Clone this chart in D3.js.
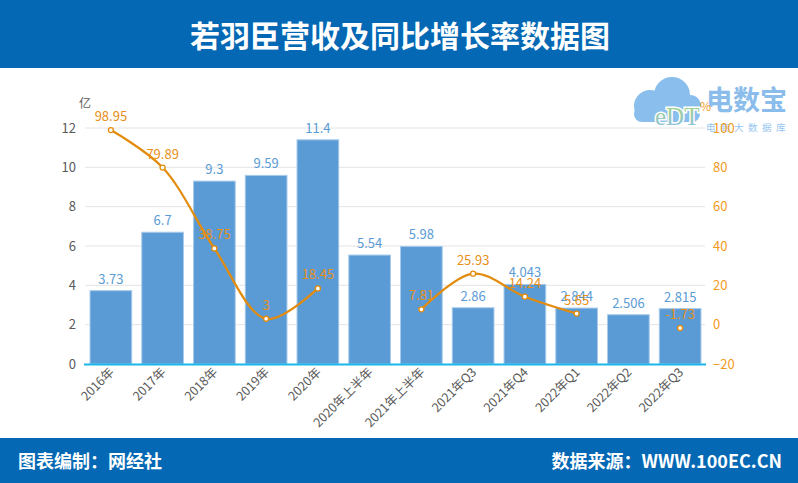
<!DOCTYPE html>
<html><head><meta charset="utf-8">
<script src="https://cdn.jsdelivr.net/npm/d3@7"></script>
<style>
html,body{margin:0;padding:0;background:#fff;}
svg{display:block;font-family:"Microsoft YaHei","Noto Sans CJK SC","Noto Sans",sans-serif;}
</style></head>
<body><svg id="c" width="798" height="483"></svg>
<script>
const categories = ["2016年","2017年","2018年","2019年","2020年","2020年上半年","2021年上半年","2021年Q3","2021年Q4","2022年Q1","2022年Q2","2022年Q3"];
const revenue = [3.73, 6.7, 9.3, 9.59, 11.4, 5.54, 5.98, 2.86, 4.043, 2.844, 2.506, 2.815];
const revenueLabels = ["3.73","6.7","9.3","9.59","11.4","5.54","5.98","2.86","4.043","2.844","2.506","2.815"];
const growth = [98.95, 79.89, 38.75, 3, 18.45, null, 7.81, 25.93, 14.24, 5.65, null, -1.73];
const growthLabels = ["98.95","79.89","38.75","3","18.45","","7.81","25.93","14.24","5.65","","-1.73"];
const leftTicks = [0,2,4,6,8,10,12];
const rightTicks = [-20,0,20,40,60,80,100];
const title = "若羽臣营收及同比增长率数据图";
const footerLeft = "图表编制：网经社";
const footerRight = "数据来源：WWW.100EC.CN";

const svg = d3.select("#c");
const W = 798, H = 483;
const blue = "#0468B4";

// header & footer
svg.append("rect").attr("x",0).attr("y",0).attr("width",W).attr("height",68).attr("fill",blue);
svg.append("text").attr("x",400).attr("y",47).attr("text-anchor","middle")
  .attr("fill","#fff").attr("font-size",30).attr("font-weight","bold").text(title);
svg.append("rect").attr("x",0).attr("y",438).attr("width",W).attr("height",H-438).attr("fill",blue);
svg.append("text").attr("x",18).attr("y",468).attr("fill","#fff").attr("font-size",18).attr("font-weight","bold").text(footerLeft);
svg.append("text").attr("x",782).attr("y",468).attr("text-anchor","end").attr("fill","#fff").attr("font-size",18).attr("font-weight","bold").text(footerRight);

// logo watermark
const logo = svg.append("g").attr("opacity",0.9);
const cloud = logo.append("g").attr("fill","#7DB8EC");
[[650,106,16],[672,95,18],[690,106,11],[662,112,10],[680,113,10]].forEach(c=>cloud.append("circle").attr("cx",c[0]).attr("cy",c[1]).attr("r",c[2]));
cloud.append("rect").attr("x",634).attr("y",106).attr("width",66).attr("height",16).attr("rx",8);
const grad = svg.append("defs").append("linearGradient").attr("id","lg").attr("x1",0).attr("y1",0).attr("x2",0).attr("y2",1);
grad.append("stop").attr("offset","0%").attr("stop-color","#9ed36a");
grad.append("stop").attr("offset","100%").attr("stop-color","#7DB8EC");
logo.append("text").attr("x",655).attr("y",125).attr("font-size",25).attr("font-family","Liberation Serif, serif")
  .attr("fill","#fff").attr("stroke","#fff").attr("stroke-width",3).text("eDT");
logo.append("text").attr("x",655).attr("y",125).attr("font-size",25).attr("font-family","Liberation Serif, serif")
  .attr("fill","url(#lg)").text("eDT");
logo.append("text").attr("x",706).attr("y",110).attr("font-size",27).attr("font-weight","bold").attr("fill","#7EB6EA").text("电数宝");
logo.append("text").attr("x",706).attr("y",131).attr("font-size",9.5).attr("letter-spacing",4.5).attr("fill","#8CC0EE").text("电商大数据库");

// scales
const x = d3.scaleBand().domain(categories).range([85,706]).paddingInner(0.194).paddingOuter(0.097);
const yL = d3.scaleLinear().domain([0,12]).range([364,128]);
const yR = d3.scaleLinear().domain([-20,100]).range([364,128]);

// grid
svg.append("g").selectAll("line").data(leftTicks.slice(1)).join("line")
  .attr("x1",85).attr("x2",705).attr("y1",d=>yL(d)).attr("y2",d=>yL(d))
  .attr("stroke","#E4E4E4").attr("stroke-width",1);

// left axis
const gL = svg.append("g").attr("transform","translate(80,0)")
  .call(d3.axisLeft(yL).tickValues(leftTicks).tickSize(0).tickPadding(4));
gL.select(".domain").remove();
gL.selectAll("text").attr("fill","#595959").attr("font-size",13).attr("font-family","Microsoft YaHei, Noto Sans CJK SC, sans-serif");
svg.append("text").attr("x",79).attr("y",108).attr("fill","#595959").attr("font-size",12).text("亿");

// right axis
const gR = svg.append("g").attr("transform","translate(709,0)")
  .call(d3.axisRight(yR).tickValues(rightTicks).tickSize(0).tickPadding(4));
gR.select(".domain").remove();
gR.selectAll("text").attr("fill","#F39A1E").attr("font-size",13).attr("font-family","Microsoft YaHei, Noto Sans CJK SC, sans-serif");
svg.append("text").attr("x",700).attr("y",111).attr("fill","#F39A1E").attr("font-size",12).text("%");

// bars
svg.append("g").selectAll("rect").data(revenue).join("rect")
  .attr("x",(d,i)=>x(categories[i])).attr("width",x.bandwidth())
  .attr("y",d=>yL(d)).attr("height",d=>yL(0)-yL(d))
  .attr("fill","#5B9BD5").attr("stroke","#A8CBEC").attr("stroke-width",1);

// baseline
svg.append("line").attr("x1",84).attr("x2",706).attr("y1",yL(0)+0.5).attr("y2",yL(0)+0.5)
  .attr("stroke","#19B7EA").attr("stroke-width",2);

// x labels
svg.append("g").selectAll("text").data(categories).join("text")
  .attr("transform",(d)=>`translate(${x(d)+x.bandwidth()/2+4},${373}) rotate(-45)`)
  .attr("text-anchor","end").attr("fill","#595959").attr("font-size",12.5).text(d=>d);

// bar labels
svg.append("g").selectAll("text").data(revenue).join("text")
  .attr("x",(d,i)=>x(categories[i])+x.bandwidth()/2).attr("y",d=>yL(d)-7)
  .attr("text-anchor","middle").attr("fill","#5B9BD5").attr("font-size",13).text((d,i)=>revenueLabels[i]);

// line
const pts = growth.map((v,i)=>({v,c:categories[i]}));
const line = d3.line().defined(d=>d.v!==null)
  .x(d=>x(d.c)+x.bandwidth()/2).y(d=>yR(d.v)).curve(d3.curveCatmullRom.alpha(0.5));
svg.append("path").datum(pts).attr("d",line).attr("fill","none").attr("stroke","#E38B0B").attr("stroke-width",2.2);
const valid = pts.filter(d=>d.v!==null);
svg.append("g").selectAll("circle").data(valid).join("circle")
  .attr("cx",d=>x(d.c)+x.bandwidth()/2).attr("cy",d=>yR(d.v)).attr("r",2.5)
  .attr("fill","#fff").attr("stroke","#E38B0B").attr("stroke-width",1.3);
svg.append("g").selectAll("text").data(pts).join("text")
  .attr("x",d=>x(d.c)+x.bandwidth()/2).attr("y",d=>d.v===null?0:yR(d.v)-9)
  .attr("text-anchor","middle").attr("fill","#E8901A").attr("font-size",13)
  .text((d,i)=>growthLabels[i]);
</script></body></html>
